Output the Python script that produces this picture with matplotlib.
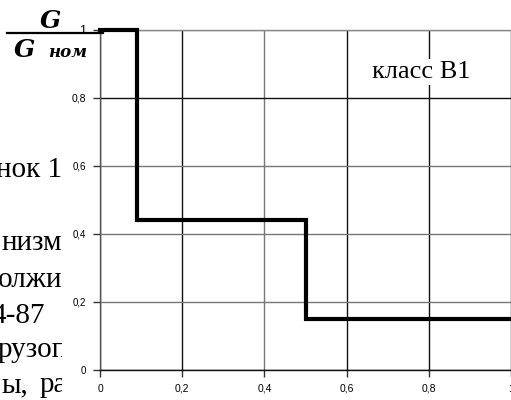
import matplotlib
matplotlib.use('Agg')
import matplotlib.pyplot as plt
from matplotlib.transforms import Bbox, IdentityTransform
from matplotlib.lines import Line2D

# ---- data ----
edges = [0.0, 0.09, 0.5, 1.0]          # relative time boundaries
levels = [1.0, 0.44, 0.15]             # G / G_nom on each interval
xticks = [0, 0.2, 0.4, 0.6, 0.8, 1.0]
xticklabels = ['0', '0,2', '0,4', '0,6', '0,8', '1']
yticks = [0, 0.2, 0.4, 0.6, 0.8, 1.0]
yticklabels = ['0', '0,2', '0,4', '0,6', '0,8', '1']
class_label = 'класс В1'

# fragments of surrounding document text (clipped at the left margin)
doc_texts = ['нок 1', 'низм', 'олжи', '4-87', 'рузоп', 'ы,', 'ра']

W, H = 511, 400
fig = plt.figure(figsize=(W / 100, H / 100), dpi=100)
fig.patch.set_facecolor('white')
ax = fig.add_axes([100 / W, 30 / H, 411 / W, 340.5 / H])

ax.set_xlim(0, 1)
ax.set_ylim(0, 1)

# grid
ax.set_xticks(xticks)
ax.set_xticklabels(xticklabels, fontfamily='Liberation Sans', fontsize=7.5)
ax.set_yticks(yticks)
ax.set_yticklabels(yticklabels, fontfamily='Liberation Sans', fontsize=7)
ax.get_yticklabels()[-1].set_fontsize(9)
ax.get_yticklabels()[-2].set_fontsize(7.5)
ax.tick_params(axis='both', direction='out', length=5, width=1, color='#333333', pad=5)
ax.grid(True, color='#222222', linewidth=1.0)
ax.set_axisbelow(True)
xg_colors = ['#000000', '#111111', '#777777', '#111111', '#111111', '#111111']
yg_colors = ['#000000', '#777777', '#777777', '#777777', '#111111', '#888888']
for gl, c in zip(ax.get_xgridlines(), xg_colors):
    gl.set_color(c)
for gl, c in zip(ax.get_ygridlines(), yg_colors):
    gl.set_color(c)

ax.spines['right'].set_visible(False)
ax.spines['top'].set_color('#888888')
ax.spines['left'].set_color('#555555')
ax.spines['bottom'].set_color('#111111')
for s in ['top', 'left', 'bottom']:
    ax.spines[s].set_linewidth(1.0)

# step curve
ax.step(edges, levels + [levels[-1]], where='post', color='black',
        linewidth=3.0, solid_capstyle='projecting', solid_joinstyle='miter',
        clip_on=False, zorder=5)

# class label
fig.text(421 / W, (H - 78) / H, class_label, ha='center', va='baseline',
         fontfamily='Liberation Serif', fontsize=19,
         bbox=dict(facecolor='white', edgecolor='none', pad=1.5), zorder=10)

# y-axis label: G / G_nom
ident = IdentityTransform()
fig.text(50, H - 28, 'G', transform=ident, ha='center', va='baseline',
         fontfamily='DejaVu Serif', fontstyle='italic', fontweight='bold', fontsize=18)
fig.add_artist(Line2D([7, 103], [H - 33, H - 33], transform=ident,
                      color='black', linewidth=1.6))
fig.text(24, H - 57, 'G', transform=ident, ha='center', va='baseline',
         fontfamily='DejaVu Serif', fontstyle='italic', fontweight='bold', fontsize=18)
fig.text(68, H - 57, 'ном', transform=ident, ha='center', va='baseline',
         fontfamily='DejaVu Serif', fontstyle='italic', fontweight='bold', fontsize=12)

# document text fragments
clip = Bbox.from_extents(0, 0, 62, H)
doc_pos = [  # (x, baseline y from top, ha)
    (62, 177, 'right'),
    (62, 250, 'right'),
    (62, 287, 'right'),
    (45, 323, 'right'),
    (68, 357, 'right'),
    (28, 392, 'right'),
    (40, 392, 'left'),
]
for txt, (x, y, ha) in zip(doc_texts, doc_pos):
    t = fig.text(x, H - y, txt, transform=ident, ha=ha, va='baseline',
                 fontfamily='Liberation Serif', fontsize=21)
    t.set_clip_box(clip)
    t.set_clip_on(True)

fig.savefig('out.png', dpi=100)
